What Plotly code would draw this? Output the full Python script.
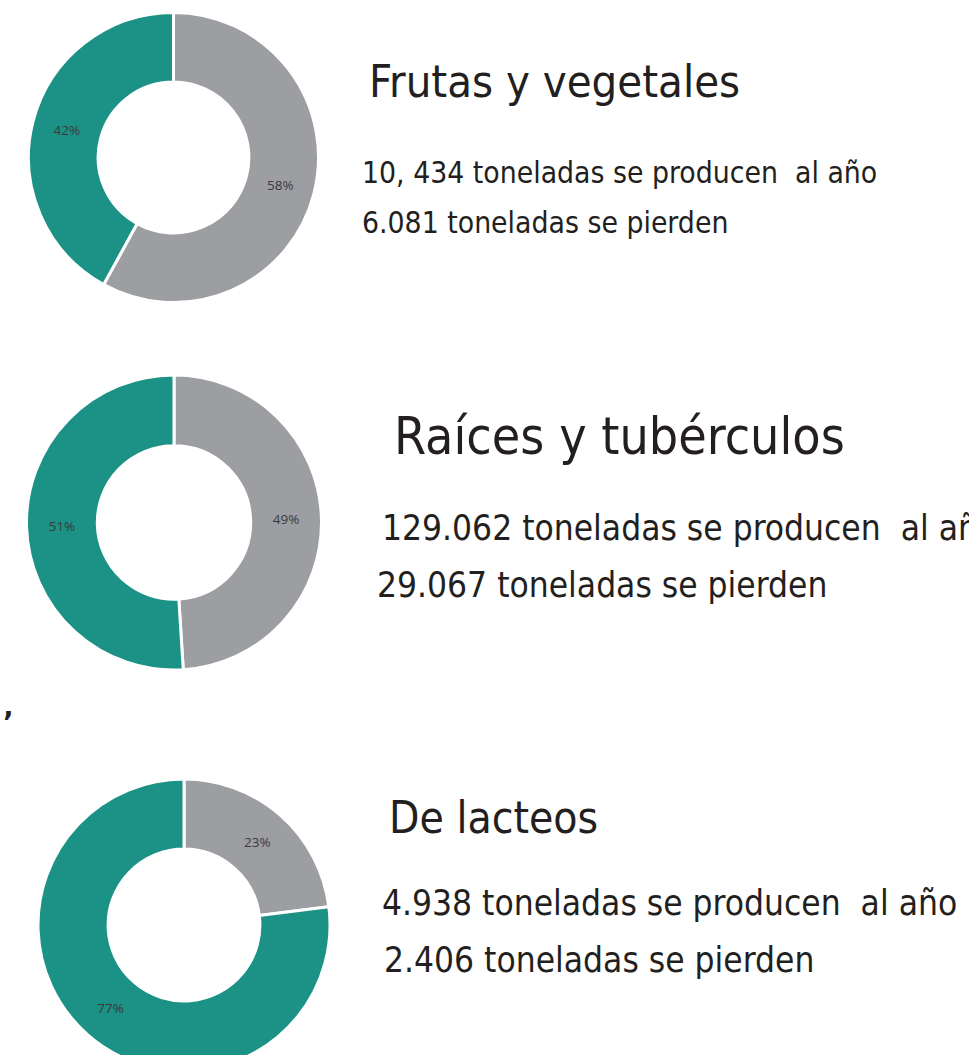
import plotly.graph_objects as go

# ---- data ----
categories = ["Se pierde", "Se aprovecha"]
frutas_pct = [58, 42]
raices_pct = [49, 51]
lacteos_pct = [23, 77]

titles = ["Frutas y vegetales", "Raíces y tubérculos", "De lacteos"]
produced_lines = [
    "10, 434 toneladas se producen  al año",
    "129.062 toneladas se producen  al año",
    "4.938 toneladas se producen  al año",
]
lost_lines = [
    "6.081 toneladas se pierden",
    "29.067 toneladas se pierden",
    "2.406 toneladas se pierden",
]

# ---- layout constants ----
W, H = 969, 1080
GRAY = "#9d9ea2"
TEAL = "#1b9285"
TXT = "#231f20"
FONT = "DejaVu Sans Condensed, DejaVu Sans, sans-serif"


def dom(cx, cy, r):
    return dict(
        x=[(cx - r) / W, (cx + r) / W],
        y=[1 - (cy + r) / H, 1 - (cy - r) / H],
    )


donuts = [
    (frutas_pct, dom(173.5, 157.5, 145)),
    (raices_pct, dom(174, 522.5, 147.5)),
    (lacteos_pct, dom(184, 925, 146)),
]

fig = go.Figure()
for vals, d in donuts:
    fig.add_trace(
        go.Pie(
            labels=categories,
            values=vals,
            hole=0.52,
            sort=False,
            direction="clockwise",
            rotation=0,
            domain=d,
            marker=dict(colors=[GRAY, TEAL], line=dict(color="white", width=3)),
            textinfo="percent",
            textposition="inside",
            insidetextorientation="horizontal",
            textfont=dict(family="Open Sans, sans-serif", size=13.5, color="#3a3a3a"),
            showlegend=False,
            hoverinfo="label+percent",
        )
    )

# text blocks: (text, left x px, cap-center y px, size)
texts = [
    (titles[0], 367, 81.5, 45),
    (produced_lines[0], 360, 172.5, 29.8),
    (lost_lines[0], 360, 222.5, 29.8),
    (titles[1], 392, 436, 51.5),
    (produced_lines[1], 380, 527.5, 35),
    (lost_lines[1], 375, 584.5, 35),
    (titles[2], 387, 817.5, 44),
    (produced_lines[2], 380, 902.5, 35),
    (lost_lines[2], 382, 959.5, 35),
]

annotations = []
for t, x, y, s in texts:
    annotations.append(
        dict(
            text=t,
            x=x / W,
            y=1 - y / H,
            xref="paper",
            yref="paper",
            xanchor="left",
            yanchor="middle",
            showarrow=False,
            font=dict(family=FONT, size=s, color=TXT),
        )
    )
# small fragment at the left edge
annotations.append(
    dict(text="’", x=1 / W, y=1 - 722 / H, xref="paper", yref="paper",
         xanchor="left", yanchor="middle", showarrow=False,
         font=dict(family="DejaVu Sans", size=28, color=TXT, weight="bold"))
)

fig.update_layout(
    width=W,
    height=H,
    margin=dict(l=0, r=0, t=0, b=0),
    paper_bgcolor="white",
    plot_bgcolor="white",
    annotations=annotations,
)

post = (
    "document.body.style.margin='0';"
    "document.body.style.overflow='hidden';"
    "document.documentElement.style.overflow='hidden';"
    "var g=document.getElementById('{plot_id}');"
    "g.parentElement.style.height='1055px';"
    "g.parentElement.style.overflow='hidden';"
)
fig.write_html("out.html", post_script=post, config={"displayModeBar": False})
